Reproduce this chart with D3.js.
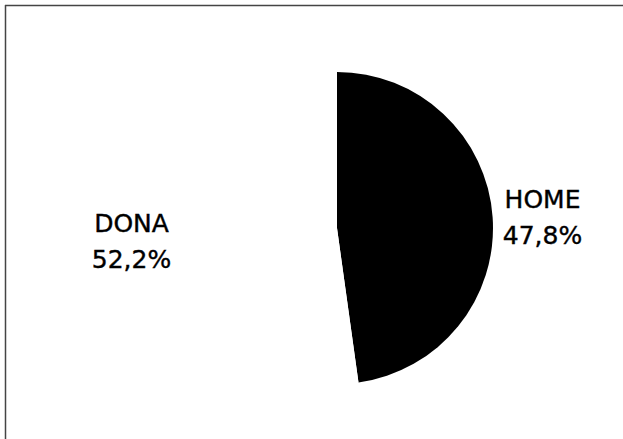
<!DOCTYPE html>
<html>
<head>
<meta charset="utf-8">
<script src="https://cdn.jsdelivr.net/npm/d3@7"></script>
<style>
  body { margin: 0; background: #fff; }
  text { font-family: "DejaVu Sans", Verdana, sans-serif; }
</style>
</head>
<body>
<div id="chart"></div>
<script>
// Slices, in drawing order (clockwise from 12 o'clock)
var labels = ["HOME", "DONA"];
var values = [47.8, 52.2];
var fills = ["#000000", "#ffffff"];

var width = 623, height = 439;
var cx = 337, cy = 228, radius = 156;

var svg = d3.select("#chart").append("svg")
  .attr("width", width)
  .attr("height", height);

// Frame (only the top and left edges show in the scan)
svg.append("line")
  .attr("x1", 5).attr("y1", 5.5).attr("x2", width).attr("y2", 5.5)
  .attr("stroke", "#444").attr("stroke-width", 1.5);
svg.append("line")
  .attr("x1", 5.5).attr("y1", 5).attr("x2", 5.5).attr("y2", height)
  .attr("stroke", "#444").attr("stroke-width", 1.5);

var g = svg.append("g")
  .attr("transform", "translate(" + cx + "," + cy + ")");

var pieData = labels.map(function (d, i) {
  return { label: d, value: values[i], fill: fills[i] };
});

var pie = d3.pie().sort(null).value(function (d) { return d.value; });

var arc = d3.arc().innerRadius(0).outerRadius(radius);
var labelArc = d3.arc().innerRadius(206).outerRadius(206);

var slices = g.selectAll(".arc")
  .data(pie(pieData))
  .enter()
  .append("g")
  .attr("class", "arc");

slices.append("path")
  .attr("d", arc)
  .attr("fill", function (d) { return d.data.fill; });

// Labels: name and percentage on two lines
var yShift = { HOME: 2, DONA: -2 };
var lbl = slices.append("text")
  .attr("text-anchor", "middle")
  .attr("font-size", "25px")
  .attr("fill", "#000")
  .attr("stroke", "#000")
  .attr("stroke-width", 0.4)
  .attr("transform", function (d) {
    var c = labelArc.centroid(d);
    return "translate(" + c[0] + "," + (c[1] + yShift[d.data.label]) + ")";
  });

lbl.append("tspan")
  .attr("x", 0)
  .attr("y", -8)
  .text(function (d) { return d.data.label; });

lbl.append("tspan")
  .attr("x", 0)
  .attr("y", 28)
  .text(function (d) { return d.data.value.toFixed(1).replace(".", ",") + "%"; });
</script>
</body>
</html>
